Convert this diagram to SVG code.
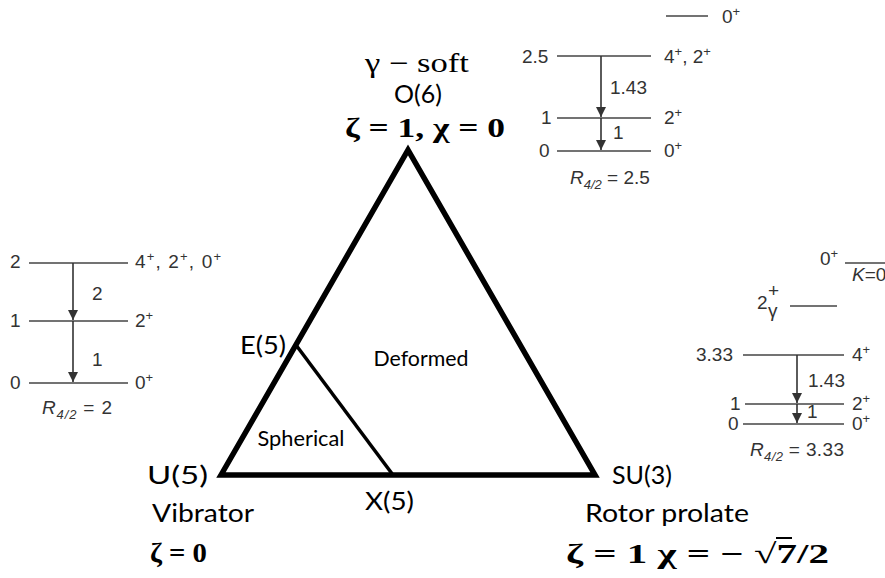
<svg xmlns="http://www.w3.org/2000/svg" width="885" height="578" viewBox="0 0 885 578">
<style>
.lbl{font-family:"Lato","Open Sans","Noto Sans",sans-serif;font-size:25px;fill:#000}
.reg{font-family:"Lato","Open Sans","Noto Sans",sans-serif;font-size:22px;fill:#000}
.m{font-family:"Liberation Serif","DejaVu Serif",serif;font-size:27px;fill:#000}
.mb{font-family:"Liberation Serif","DejaVu Serif",serif;font-size:28px;font-weight:bold;fill:#000}
.lv{font-family:"Liberation Sans",Arial,sans-serif;font-size:19px;fill:#333}
.lvl{stroke:#444;stroke-width:1.6;fill:none}
.arr{stroke:#333;stroke-width:1.6;fill:none;marker-end:url(#ah)}
.tri{stroke:#000;stroke-width:5.5;fill:none;stroke-linejoin:miter}
</style>
<defs>
<marker id="ah" markerUnits="userSpaceOnUse" markerWidth="12" markerHeight="12" refX="10" refY="5" orient="auto">
<path d="M0,0 L10,5 L0,10 Z" fill="#333"/>
</marker>
</defs>
<rect width="885" height="578" fill="#fff"/>

<g id="triangle">
<path class="tri" d="M221,475 L408,150 L595,475 Z"/>
<line x1="296" y1="345" x2="393" y2="475" stroke="#000" stroke-width="3.5"/>
</g>

<g id="regions">
<text class="reg" x="421" y="366" text-anchor="middle" textLength="95" lengthAdjust="spacingAndGlyphs">Deformed</text>
<text class="reg" x="301" y="446" text-anchor="middle" textLength="87" lengthAdjust="spacingAndGlyphs">Spherical</text>
</g>

<g id="node-O6">
<text class="m" x="417" y="72" text-anchor="middle" textLength="104" lengthAdjust="spacingAndGlyphs">γ − soft</text>
<text class="lbl" x="418" y="103" text-anchor="middle">O(6)</text>
<text class="mb" x="425" y="137" text-anchor="middle" textLength="160" lengthAdjust="spacingAndGlyphs">ζ = 1, χ = 0</text>
</g>

<g id="node-E5">
<text class="lbl" x="240" y="354" textLength="46" lengthAdjust="spacingAndGlyphs">E(5)</text>
</g>

<g id="node-U5">
<text class="lbl" x="147" y="484" textLength="61" lengthAdjust="spacingAndGlyphs">U(5)</text>
<text class="lbl" x="152" y="522" textLength="102" lengthAdjust="spacingAndGlyphs">Vibrator</text>
<text class="mb" x="150" y="562" textLength="57" lengthAdjust="spacingAndGlyphs">ζ = 0</text>
</g>

<g id="node-X5">
<text class="lbl" x="365" y="510" textLength="49" lengthAdjust="spacingAndGlyphs">X(5)</text>
</g>

<g id="node-SU3">
<text class="lbl" x="612" y="484" textLength="60" lengthAdjust="spacingAndGlyphs">SU(3)</text>
<text class="lbl" x="585" y="522" textLength="164" lengthAdjust="spacingAndGlyphs">Rotor prolate</text>
<text class="mb" x="566" y="563" textLength="263" lengthAdjust="spacingAndGlyphs">ζ = 1 χ = − √7/2</text>
<line x1="776" y1="538" x2="792" y2="538" stroke="#000" stroke-width="2"/>
</g>

<g id="scheme-O6">
<line class="lvl" x1="666" y1="16" x2="708" y2="16"/>
<text class="lv" x="722" y="23">0<tspan font-size="13" dy="-7">+</tspan></text>
<text class="lv" x="522" y="63">2.5</text>
<line class="lvl" x1="557" y1="56" x2="651" y2="56"/>
<text class="lv" x="664" y="63">4<tspan font-size="13" dy="-7">+</tspan><tspan dy="7">, 2</tspan><tspan font-size="13" dy="-7">+</tspan></text>
<text class="lv" x="610" y="94">1.43</text>
<text class="lv" x="541" y="124">1</text>
<line class="lvl" x1="557" y1="118" x2="651" y2="118"/>
<text class="lv" x="664" y="124">2<tspan font-size="13" dy="-7">+</tspan></text>
<text class="lv" x="613" y="139">1</text>
<text class="lv" x="539" y="157">0</text>
<line class="lvl" x1="557" y1="151" x2="651" y2="151"/>
<text class="lv" x="664" y="157">0<tspan font-size="13" dy="-7">+</tspan></text>
<text class="lv" x="570" y="184"><tspan font-style="italic">R</tspan><tspan font-size="13" font-style="italic" dy="5">4/2</tspan><tspan dy="-5"> = 2.5</tspan></text>
</g>

<g id="scheme-U5">
<text class="lv" x="10" y="268">2</text>
<line class="lvl" x1="29" y1="263" x2="128" y2="263"/>
<text class="lv" x="135" y="268" textLength="86">4<tspan font-size="13" dy="-7">+</tspan><tspan dy="7">, 2</tspan><tspan font-size="13" dy="-7">+</tspan><tspan dy="7">, 0</tspan><tspan font-size="13" dy="-7">+</tspan></text>
<text class="lv" x="92" y="300">2</text>
<text class="lv" x="10" y="327">1</text>
<line class="lvl" x1="29" y1="321" x2="128" y2="321"/>
<text class="lv" x="135" y="327">2<tspan font-size="13" dy="-7">+</tspan></text>
<text class="lv" x="92" y="366">1</text>
<text class="lv" x="10" y="389">0</text>
<line class="lvl" x1="29" y1="383" x2="128" y2="383"/>
<text class="lv" x="135" y="389">0<tspan font-size="13" dy="-7">+</tspan></text>
<text class="lv" x="42" y="414" textLength="70"><tspan font-style="italic">R</tspan><tspan font-size="13" font-style="italic" dy="5">4/2</tspan><tspan dy="-5"> = 2</tspan></text>
</g>

<g id="scheme-SU3">
<text class="lv" x="820" y="265">0<tspan font-size="13" dy="-7">+</tspan></text>
<line class="lvl" x1="845" y1="263" x2="885" y2="263"/>
<text class="lv" x="852" y="281" font-size="17"><tspan font-style="italic">K</tspan>=0</text>
<text class="lv" x="757" y="309">2</text>
<text class="lv" x="768" y="297" font-size="12">+</text>
<text class="lv" x="768" y="317" font-size="13">γ</text>
<line class="lvl" x1="790" y1="306" x2="837" y2="306"/>
<text class="lv" x="696" y="361">3.33</text>
<line class="lvl" x1="743" y1="355" x2="844" y2="355"/>
<text class="lv" x="852" y="361">4<tspan font-size="13" dy="-7">+</tspan></text>
<text class="lv" x="808" y="387">1.43</text>
<text class="lv" x="730" y="410">1</text>
<line class="lvl" x1="745" y1="404" x2="844" y2="404"/>
<text class="lv" x="852" y="410">2<tspan font-size="13" dy="-7">+</tspan></text>
<text class="lv" x="807" y="418">1</text>
<text class="lv" x="728" y="430">0</text>
<line class="lvl" x1="743" y1="424" x2="844" y2="424"/>
<text class="lv" x="852" y="430">0<tspan font-size="13" dy="-7">+</tspan></text>
<text class="lv" x="750" y="456" textLength="94"><tspan font-style="italic">R</tspan><tspan font-size="13" font-style="italic" dy="5">4/2</tspan><tspan dy="-5"> = 3.33</tspan></text>
</g>

<g id="connectors">
<line class="arr" x1="601" y1="56" x2="601" y2="117"/>
<line class="arr" x1="601" y1="118" x2="601" y2="150"/>
<line class="arr" x1="73" y1="263" x2="73" y2="320"/>
<line class="arr" x1="73" y1="321" x2="73" y2="382"/>
<line class="arr" x1="797" y1="355" x2="797" y2="403"/>
<line class="arr" x1="797" y1="404" x2="797" y2="423"/>
</g>
</svg>
